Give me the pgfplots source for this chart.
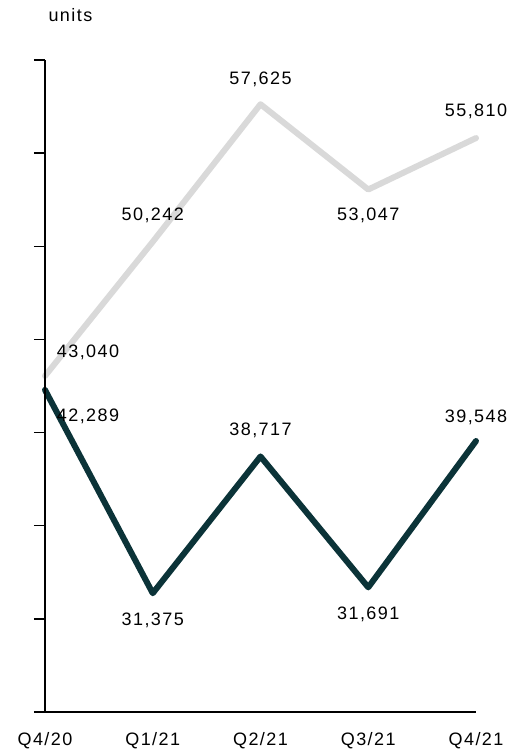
\documentclass[border=0pt]{standalone}
\usepackage{fontspec}
\setmainfont{Liberation Sans}[LetterSpace=8]
\usepackage{pgfplots}
\usepackage{pgfplotstable}
\pgfplotsset{compat=1.18}
\definecolor{darkteal}{HTML}{0B3338}
\definecolor{lightgrey}{HTML}{D9D9D9}

% quarterly units; dx/dy place each value label relative to its point
\pgfplotstableread{
x y dx dy
0 43040 43 24
1 50242 0 26
2 57625 0 25
3 53047 0 -26
4 55810 0 27
}\upperseries
\pgfplotstableread{
x y dx dy
0 42289 43 -26
1 31375 0 -27
2 38717 0 26
3 31691 0 -27
4 39548 0 24
}\lowerseries

\newcommand{\lblfont}{\fontsize{18}{21}\selectfont}

\begin{document}
\begin{tikzpicture}
\begin{axis}[
  scale only axis, width=431pt, height=652pt,
  xmin=0, xmax=4, ymin=25000, ymax=60000,
  axis lines=left, axis line style={-, line width=1.5pt, black},
  xtick={0,...,4}, xticklabels={Q4/20,Q1/21,Q2/21,Q3/21,Q4/21},
  ytick={25000,30000,...,60000}, yticklabels={}, scaled y ticks=false,
  tick align=outside, major tick length=11pt,
  x tick style={draw=none},
  y tick style={line width=1.5pt, black},
  xticklabel style={font=\lblfont, yshift=-6pt},
  clip=false, axis on top,
  nodes near coords, point meta=y,
  every node near coord/.style={anchor=center, xshift=\dx pt, yshift=\dy pt, font=\lblfont, text=black},
  visualization depends on={\thisrow{dx} \as \dx},
  visualization depends on={\thisrow{dy} \as \dy},
  /pgf/number format/.cd, fixed, precision=0, 1000 sep={,}, assume math mode=true,
]
\addplot[lightgrey, line width=6pt, line cap=round, line join=round] table[x=x, y=y] {\upperseries};
\addplot[darkteal, line width=6pt, line cap=round, line join=round] table[x=x, y=y] {\lowerseries};
\end{axis}
\node[anchor=base west, font=\lblfont] at ([yshift=38pt]current axis.north west) {units};
\pgfresetboundingbox
\path[use as bounding box] ([xshift=-45pt,yshift=-37pt]current axis.south west) rectangle ++(509pt,749pt);
\end{tikzpicture}
\end{document}
